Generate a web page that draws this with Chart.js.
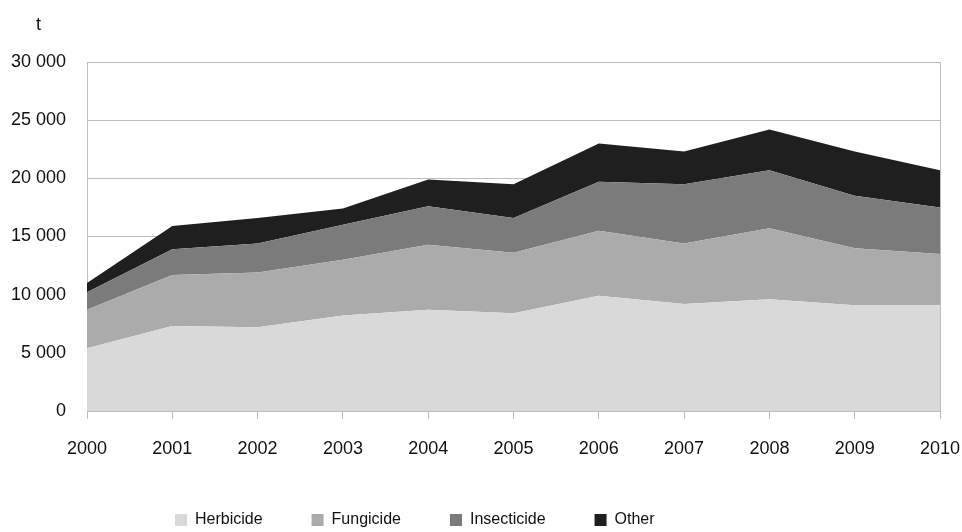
<!DOCTYPE html>
<html>
<head>
<meta charset="utf-8">
<script src="https://cdn.jsdelivr.net/npm/chart.js@4"></script>
<style>
  html, body { margin: 0; padding: 0; background: #fff; }
  #wrap { width: 962px; height: 532px; }
</style>
</head>
<body>
<div id="wrap"><canvas id="mainChart"></canvas></div>
<script>
// Data (tonnes)
const years = ["2000", "2001", "2002", "2003", "2004", "2005", "2006", "2007", "2008", "2009", "2010"];
const herbicide = [5400, 7300, 7200, 8200, 8700, 8400, 9900, 9200, 9600, 9100, 9100];
const fungicide = [3300, 4400, 4700, 4800, 5600, 5200, 5600, 5200, 6100, 4900, 4400];
const insecticide = [1500, 2200, 2500, 3000, 3300, 3000, 4200, 5100, 5000, 4500, 4000];
const other = [800, 2000, 2200, 1400, 2300, 2900, 3300, 2800, 3500, 3800, 3200];

const fontFamily = "'Liberation Sans', Arial, sans-serif";
const gridColor = "#bdbdbd";
const legendPad = 49;
const legendFont = 16;

let makeSet = (label, data, color, fill) => ({
  label: label,
  data: data,
  backgroundColor: color,
  borderColor: color,
  borderWidth: 0,
  pointRadius: 0,
  fill: fill,
  tension: 0,
});

// unit label above the y axis + keep legend compact and move it left
const extras = {
  id: "extras",
  afterInit(chart) {
    const lg = chart.legend;
    const fit = lg.fit.bind(lg);
    lg.fit = function () {
      fit();
      this.height = 70;
    };
  },
  beforeDraw(chart) {
    const lg = chart.legend;
    const startX = (lg.left + legendPad + lg.right - lg.lineWidths[0]) / 2;
    const shift = 175 - startX;
    lg.left += shift;
    lg.right += shift;
    lg.top = 520 - legendPad - legendFont / 2;
  },
  afterDraw(chart) {
    const ctx = chart.ctx;
    ctx.save();
    ctx.fillStyle = "#111";
    ctx.font = "18px " + fontFamily;
    ctx.textAlign = "left";
    ctx.textBaseline = "middle";
    ctx.fillText("t", 36, 25);
    ctx.restore();
  },
};

const config = {
  type: "line",
  data: {
    labels: years,
    datasets: [
      makeSet("Herbicide", herbicide, "#d9d9d9", "origin"),
      makeSet("Fungicide", fungicide, "#ababab", "-1"),
      makeSet("Insecticide", insecticide, "#7b7b7b", "-1"),
      makeSet("Other", other, "#1f1f1f", "-1"),
    ],
  },
  options: {
    responsive: true,
    maintainAspectRatio: false,
    animation: false,
    layout: { padding: { top: 62, left: 10, right: 22, bottom: 0 } },
    plugins: {
      legend: {
        position: "bottom",
        labels: {
          boxWidth: 12,
          boxHeight: 12,
          padding: legendPad,
          color: "#111",
          font: { family: fontFamily, size: legendFont },
        },
      },
      tooltip: { enabled: false },
    },
    scales: {
      x: {
        offset: false,
        afterFit: (scale) => {
          scale.height = 51;
          scale.paddingLeft = 0;
          scale.paddingRight = 0;
        },
        grid: { drawOnChartArea: false, drawTicks: true, tickLength: 8, color: gridColor },
        border: { color: gridColor },
        ticks: {
          color: "#111",
          padding: 19,
          maxRotation: 0,
          font: { family: fontFamily, size: 18 },
        },
      },
      y: {
        stacked: true,
        min: 0,
        max: 30000,
        afterFit: (scale) => { scale.width = 77; },
        grid: { color: gridColor, drawTicks: false },
        border: { color: gridColor },
        ticks: {
          stepSize: 5000,
          padding: 21,
          color: "#111",
          font: { family: fontFamily, size: 18 },
          callback: (v) => String(v).replace(/\B(?=(\d{3})+(?!\d))/g, " "),
        },
      },
      yRight: {
        position: "right",
        min: 0,
        max: 30000,
        afterFit: (scale) => { scale.width = 0; },
        grid: { display: false },
        border: { display: true, color: gridColor },
        ticks: { display: false },
      },
    },
  },
  plugins: [extras],
};

let mainChart = new Chart(document.getElementById("mainChart"), config);
</script>
</body>
</html>
